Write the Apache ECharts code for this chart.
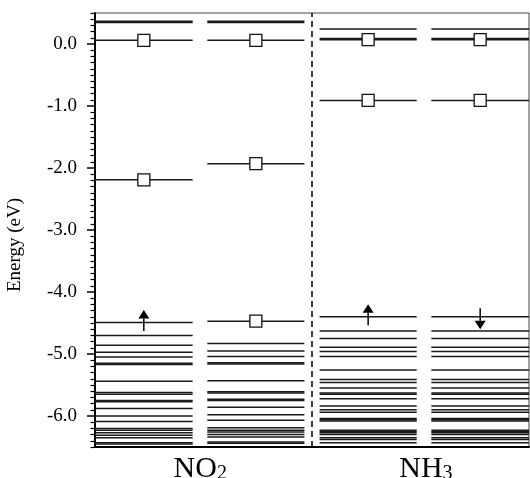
<!DOCTYPE html>
<html>
<head>
<meta charset="utf-8">
<script src="https://cdn.jsdelivr.net/npm/echarts@6/dist/echarts.min.js"></script>
<style>
  html, body { margin: 0; padding: 0; background: #fff; }
  #main { width: 530px; height: 478px; }
</style>
</head>
<body>
<div id="main"></div>
<script>
// energy levels (eV), one list per column
var no2Up = [0.365, 0.345, 0.06, -2.19, -4.49, -4.70, -4.86, -4.97, -5.05, -5.15, -5.17, -5.44,
    -5.62, -5.65, -5.75, -5.77, -5.88, -6.00, -6.09, -6.20, -6.23, -6.27, -6.31, -6.35, -6.43, -6.45];
var no2Down = [0.365, 0.345, 0.06, -1.93, -4.47, -4.83, -4.95, -5.04, -5.14, -5.16, -5.43,
    -5.61, -5.63, -5.73, -5.75, -5.86, -5.98, -6.07, -6.19, -6.23, -6.26, -6.30, -6.34, -6.42, -6.44];
var nh3Up = [0.24, 0.09, 0.07, -0.91, -4.40, -4.63, -4.75, -4.89, -4.96, -5.04, -5.26, -5.41, -5.46,
    -5.55, -5.63, -5.65, -5.72, -5.84, -5.90, -5.94, -6.04, -6.06, -6.08, -6.23, -6.25, -6.27,
    -6.30, -6.35, -6.38, -6.43];
var nh3Down = [0.24, 0.09, 0.07, -0.91, -4.40, -4.63, -4.75, -4.89, -4.96, -5.04, -5.26, -5.41, -5.46,
    -5.55, -5.63, -5.65, -5.72, -5.84, -5.90, -5.94, -6.04, -6.06, -6.08, -6.23, -6.25, -6.27,
    -6.30, -6.35, -6.38, -6.43];

// empty (unoccupied) levels marked with a square
var no2UpEmpty = [0.06, -2.19];
var no2DownEmpty = [0.06, -1.93, -4.47];
var nh3UpEmpty = [0.07, -0.91];
var nh3DownEmpty = [0.07, -0.91];

// spin arrows: [column, energy, direction]
var spinArrows = [[0, -4.49, 'up'], [2, -4.40, 'up'], [3, -4.40, 'down']];

var molecules = ['NO|2', 'NH|3'];
var moleculePos = [0.97, 3.05];
var yTicks = [-6, -5, -4, -3, -2, -1, 0];

// column extents on the x axis
var colSpans = [[0, 0.9], [1.035, 1.93], [2.07, 2.965], [3.1, 4]];
var separatorX = 2.003;

var levelCols = [no2Up, no2Down, nh3Up, nh3Down];
var emptyCols = [no2UpEmpty, no2DownEmpty, nh3UpEmpty, nh3DownEmpty];

var levelData = [];
var squareData = [];
levelCols.forEach(function (list, c) {
    list.forEach(function (e) { levelData.push([c, e]); });
});
emptyCols.forEach(function (list, c) {
    var mid = (colSpans[c][0] + colSpans[c][1]) / 2;
    list.forEach(function (e) { squareData.push([mid, e]); });
});

var minorTicks = [];
for (var i = -65; i <= 5; i++) {
    if (i % 10 !== 0) minorTicks.push(i / 10);
}

var font = 'Liberation Serif';
var myChart = echarts.init(document.getElementById('main'));

var option = {
    animation: false,
    grid: {
        left: 95, right: 1, top: 13, bottom: 31,
        outerBoundsMode: 'none',
        containLabel: false,
        show: true, borderColor: '#444', borderWidth: 1
    },
    xAxis: {
        type: 'value', min: 0, max: 4,
        splitLine: { show: false },
        axisLine: { onZero: false, lineStyle: { color: '#000', width: 2 } },
        axisTick: { show: false },
        axisLabel: {
            customValues: moleculePos,
            margin: 7,
            formatter: function (v) {
                var k = moleculePos.indexOf(v);
                if (k < 0) return '';
                var parts = molecules[k].split('|');
                return '{m|' + parts[0] + '}{s|' + parts[1] + '}';
            },
            rich: {
                m: { fontFamily: font, fontSize: 30, color: '#000', lineHeight: 30 },
                s: { fontFamily: font, fontSize: 20, color: '#000', verticalAlign: 'bottom', lineHeight: 10 }
            }
        }
    },
    yAxis: [{
        type: 'value', min: -6.5, max: 0.5,
        name: 'Energy (eV)',
        nameLocation: 'middle',
        nameGap: 70,
        nameTextStyle: { fontFamily: font, fontSize: 19, color: '#000', padding: [0, 30, 0, 0] },
        splitLine: { show: false },
        axisLine: { onZero: false, lineStyle: { color: '#000', width: 2 } },
        axisTick: { customValues: yTicks, length: 8, lineStyle: { color: '#000', width: 1.5 } },
        axisLabel: {
            customValues: yTicks, margin: 18,
            fontFamily: font, fontSize: 19, color: '#000',
            formatter: function (v) { return v.toFixed(1); }
        }
    }, {
        type: 'value', min: -6.5, max: 0.5, position: 'left',
        splitLine: { show: false },
        axisLine: { show: false, onZero: false },
        axisTick: { customValues: minorTicks, length: 4.5, lineStyle: { color: '#000', width: 1.2 } },
        axisLabel: { show: false }
    }],
    series: [{
        type: 'custom',
        data: levelData,
        encode: { x: 0, y: 1 },
        renderItem: function (params, api) {
            var span = colSpans[api.value(0)];
            var e = api.value(1);
            var p0 = api.coord([span[0], e]);
            var p1 = api.coord([span[1], e]);
            return {
                type: 'line',
                shape: { x1: p0[0], y1: p0[1], x2: p1[0], y2: p1[1] },
                style: { stroke: '#1a1a1a', lineWidth: 1.5 }
            };
        },
        markLine: {
            silent: true, symbol: 'none',
            label: { show: false },
            lineStyle: { color: '#000', type: [6, 4], width: 1.5 },
            data: [{ xAxis: separatorX }]
        },
        z: 2
    }, {
        type: 'scatter',
        data: squareData,
        symbol: 'rect',
        symbolSize: 12,
        itemStyle: { color: '#fff', borderColor: '#111', borderWidth: 1.3, opacity: 1 },
        z: 3
    }, {
        type: 'custom',
        data: spinArrows.map(function (a) {
            return [(colSpans[a[0]][0] + colSpans[a[0]][1]) / 2, a[1], a[2] === 'up' ? 1 : -1];
        }),
        encode: { x: 0, y: 1 },
        renderItem: function (params, api) {
            var p = api.coord([api.value(0), api.value(1)]);
            var d = api.value(2);
            var x = p[0], y = p[1];
            var tip = y - d * 12.5, base = y - d * 4, tail = y + d * 8.5;
            return {
                type: 'group',
                children: [{
                    type: 'line',
                    shape: { x1: x, y1: tail, x2: x, y2: base },
                    style: { stroke: '#000', lineWidth: 1.5 }
                }, {
                    type: 'polygon',
                    shape: { points: [[x, tip], [x - 5.5, base], [x + 5.5, base]] },
                    style: { fill: '#000' }
                }]
            };
        },
        z: 4
    }]
};

myChart.setOption(option);
</script>
</body>
</html>
